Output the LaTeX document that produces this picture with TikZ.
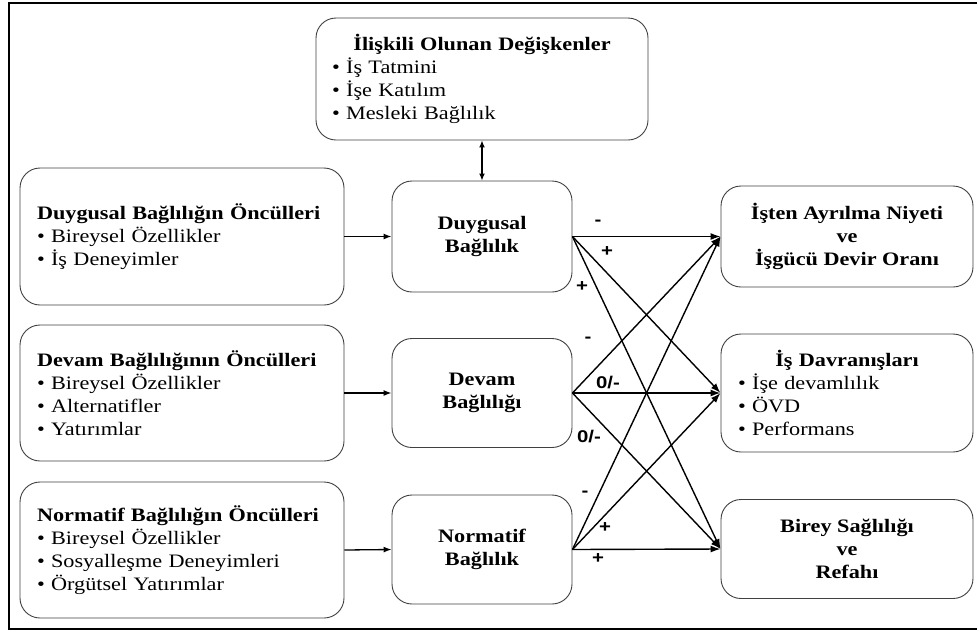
\documentclass[tikz,border=0pt]{standalone}
\usepackage{fontspec}
\setmainfont[FakeStretch=1.17]{Liberation Serif}
\newfontfamily\lblfont[FakeStretch=1.2]{Liberation Sans}
\usetikzlibrary{arrows.meta}

\tikzset{
  box/.style={draw=black!75, line width=0.9pt, rounded corners=20pt, fill=white, inner sep=0pt},
  feed/.style={line width=1.3pt, -{Latex[length=8pt,width=6pt]}},
  effect/.style={line width=1.4pt, -{Latex[length=10pt,width=7pt]}},
  sign/.style={font=\lblfont\bfseries\fontsize{17}{19}\selectfont, inner sep=0pt},
}

\begin{document}
\begin{tikzpicture}[x=1pt, y=-1pt, every node/.style={font=\fontsize{19}{23}\selectfont}]
\useasboundingbox (0,0) rectangle (977,630);
% outer frame
\draw[line width=1.8pt] (9,3) rectangle (990,629);

% correlated variables
\node[box, text width=300pt, minimum width=332pt, minimum height=122pt, align=left] (rel) at (482,79)
  {\makebox[\linewidth][c]{\textbf{İlişkili Olunan Değişkenler}}\\• İş Tatmini\\• İşe Katılım\\• Mesleki Bağlılık};

% antecedents
\node[box, text width=290pt, minimum width=324pt, minimum height=137pt, align=left] (ant1) at (182,236.5)
  {\textbf{Duygusal Bağlılığın Öncülleri}\\• Bireysel Özellikler\\• İş Deneyimler};
\node[box, text width=290pt, minimum width=324pt, minimum height=136pt, align=left] (ant2) at (182,393)
  {\textbf{Devam Bağlılığının Öncülleri}\\• Bireysel Özellikler\\• Alternatifler\\• Yatırımlar};
\node[box, text width=290pt, minimum width=324pt, minimum height=136pt, align=left] (ant3) at (182,550)
  {\textbf{Normatif Bağlılığın Öncülleri}\\• Bireysel Özellikler\\• Sosyalleşme Deneyimleri\\• Örgütsel Yatırımlar};

% commitment components
\node[box, minimum width=180pt, minimum height=111pt, align=center, font=\bfseries\fontsize{19}{23}\selectfont] (com1) at (482,236.5) {Duygusal\\Bağlılık};
\node[box, minimum width=180pt, minimum height=109pt, align=center, font=\bfseries\fontsize{19}{23}\selectfont] (com2) at (482,393) {Devam\\Bağlılığı};
\node[box, minimum width=180pt, minimum height=109pt, align=center, font=\bfseries\fontsize{19}{23}\selectfont] (com3) at (482,549.5) {Normatif\\Bağlılık};

% outcomes
\node[box, minimum width=252pt, minimum height=101pt, align=center, font=\bfseries\fontsize{19}{23}\selectfont] (out1) at (847,236.5) {İşten Ayrılma Niyeti\\ve\\İşgücü Devir Oranı};
\node[box, text width=218pt, minimum width=252pt, minimum height=118pt, align=left] (out2) at (847,393)
  {\makebox[\linewidth][c]{\textbf{İş Davranışları}}\\• İşe devamlılık\\• ÖVD\\• Performans};
\node[box, minimum width=252pt, minimum height=99pt, align=center, font=\bfseries\fontsize{19}{23}\selectfont] (out3) at (847,549) {Birey Sağlılığı\\ve\\Refahı};

% links
\draw[line width=1.3pt, {Latex[length=7pt,width=6pt]}-{Latex[length=7pt,width=6pt]}] (rel.south) -- (com1.north);
\draw[feed] (ant1.east) -- (com1.west);
\draw[feed] (ant2.east) -- (com2.west);
\draw[feed] (ant3.east) -- (com3.west);

\foreach \s in {com1,com2,com3}
  \foreach \t in {out1,out2,out3}
    \draw[effect] (\s.east) -- (\t.west);

% signs of the effects
\node[sign] (s11) at (598,223) {-};
\node[sign] (s12) at (607,252) {+};
\node[sign] (s13) at (582,287) {+};
\node[sign] (s21) at (588,340) {-};
\node[sign] (s22) at (608,383) {0/-};
\node[sign] (s23) at (589,437) {0/-};
\node[sign] (s31) at (585,494) {-};
\node[sign] (s32) at (605,528) {+};
\node[sign] (s33) at (598,559) {+};
\end{tikzpicture}
\end{document}
